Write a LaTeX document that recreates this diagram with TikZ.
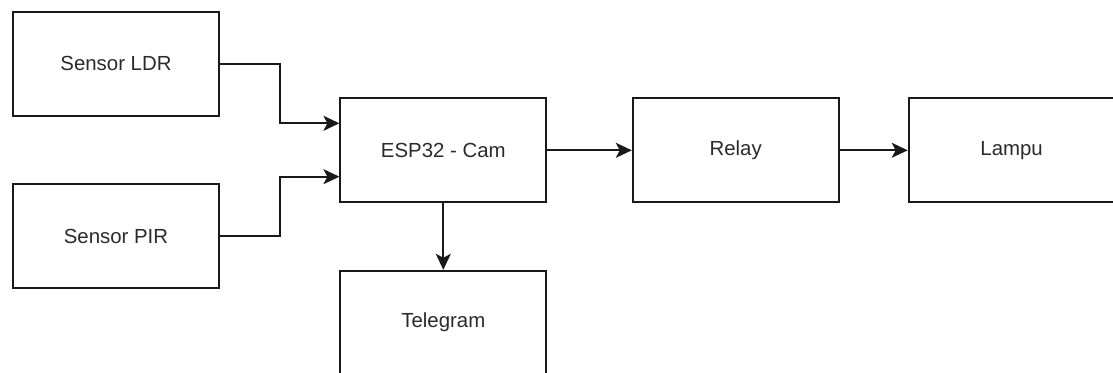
\documentclass[tikz,border=0pt]{standalone}
\usepackage{fontspec}
\setmainfont{Liberation Sans}
\usetikzlibrary{arrows.meta}
\definecolor{txt}{HTML}{2B2B2B}
\begin{document}
\begin{tikzpicture}[x=1pt,y=-1pt,
  blockbox/.style={draw=black!90,line width=1.8pt,fill=white,minimum width=206pt,minimum height=104pt,inner sep=0pt,font=\fontsize{20.4}{24}\selectfont,text=txt},
  arr/.style={draw=black!90,line width=1.8pt,-{Stealth[length=16pt,width=15pt,inset=4pt]}}]
\useasboundingbox (0,0) rectangle (1113,372);
\clip (0,0) rectangle (1113,372);
\node[blockbox] (ldr) at (116,63.7) {Sensor LDR};
\node[blockbox] (pir) at (116,236.3) {Sensor PIR};
\node[blockbox] (esp) at (443.3,150.3) {ESP32 - Cam};
\node[blockbox] (relay) at (735.7,150.3) {Relay};
\node[blockbox] (lampu) at (1011.6,150.3) {Lampu};
\node[blockbox] (tele) at (443.3,322.7) {Telegram};
\coordinate (ldrin) at ([yshift=27pt]esp.west);
\coordinate (pirin) at ([yshift=-26.4pt]esp.west);
\draw[arr] (ldr.east) -- ++(60,0) |- (ldrin);
\draw[arr] (pir.east) -- ++(60,0) |- (pirin);
\draw[arr] (esp.east) -- (relay.west);
\draw[arr] (relay.east) -- (lampu.west);
\draw[arr] (esp.south) -- (tele.north);
\end{tikzpicture}
\end{document}
